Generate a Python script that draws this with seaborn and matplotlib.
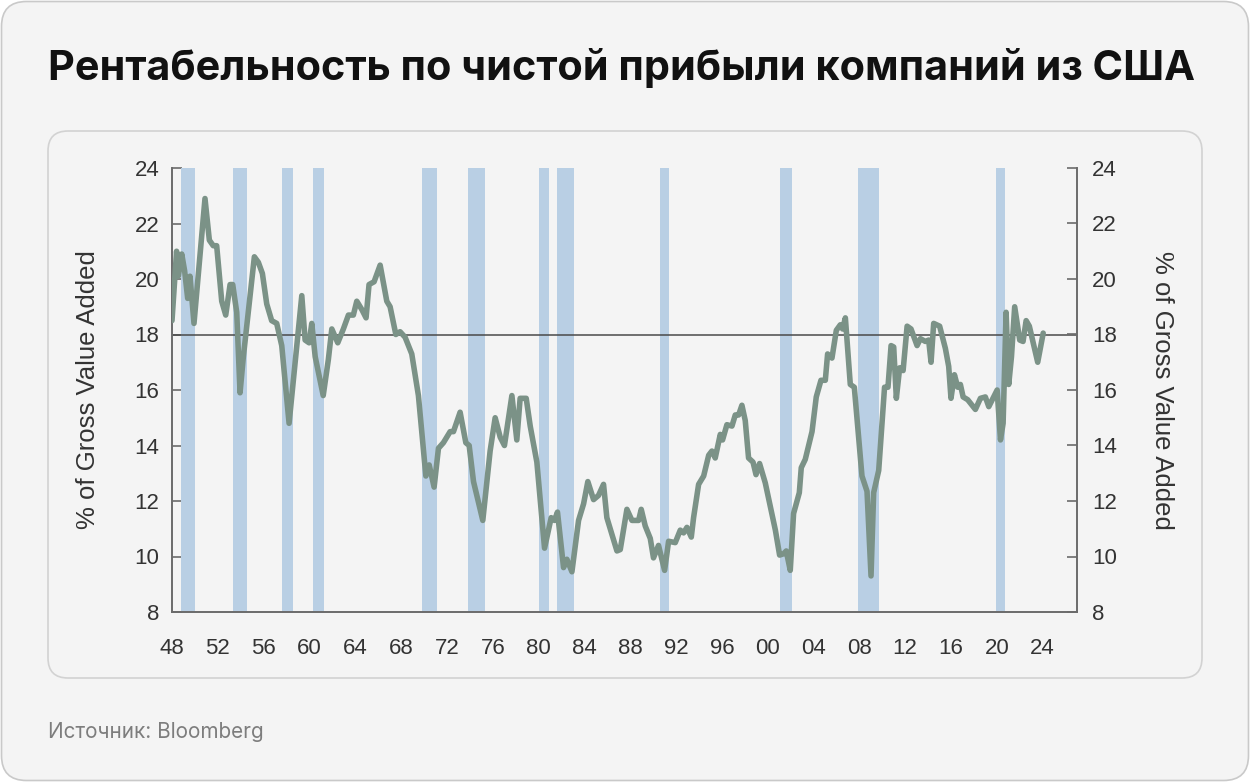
import matplotlib
matplotlib.use("Agg")
import matplotlib.pyplot as plt
from matplotlib.patches import FancyBboxPatch
import seaborn as sns
import pandas as pd

# ---------------- data ----------------
years = [1948.0, 1948.4, 1948.55, 1948.85, 1949.1, 1949.37, 1949.57, 1949.92, 1950.88, 1951.26,
         1951.6, 1951.9, 1952.34, 1952.69, 1953.07, 1953.3, 1953.65, 1953.94, 1954.23, 1955.19,
         1955.54, 1955.89, 1956.27, 1956.7, 1957.14, 1957.58, 1958.22, 1959.33, 1959.62, 1959.97,
         1960.2, 1960.5, 1961.2, 1961.65, 1961.95, 1962.47, 1962.96, 1963.4, 1963.83, 1964.13,
         1964.57, 1964.94, 1965.2, 1965.64, 1966.17, 1966.75, 1967.04, 1967.54, 1967.91, 1968.35,
         1968.93, 1969.51, 1970.16, 1970.45, 1970.88, 1971.26, 1971.69, 1972.28, 1972.57, 1973.15,
         1973.65, 1973.94, 1974.32, 1975.13, 1975.77, 1976.21, 1976.65, 1977.02, 1977.67, 1978.1,
         1978.39, 1978.92, 1979.27, 1979.85, 1980.52, 1981.1, 1981.39, 1981.65, 1982.18, 1982.47,
         1982.91, 1983.49, 1983.93, 1984.3, 1984.8, 1985.23, 1985.67, 1985.96, 1986.84, 1987.13,
         1987.71, 1988.15, 1988.73, 1988.96, 1989.31, 1989.75, 1990.03, 1990.47, 1991.0, 1991.35,
         1991.93, 1992.37, 1992.66, 1992.95, 1993.33, 1993.53, 1993.97, 1994.41, 1994.85, 1995.13,
         1995.42, 1995.86, 1996.06, 1996.44, 1996.88, 1997.17, 1997.46, 1997.75, 1998.04, 1998.33,
         1998.72, 1998.98, 1999.29, 1999.79, 2000.38, 2000.67, 2001.04, 2001.39, 2001.62, 2001.97,
         2002.26, 2002.76, 2002.93, 2003.28, 2003.87, 2004.24, 2004.65, 2005.03, 2005.23, 2005.61,
         2005.99, 2006.34, 2006.54, 2006.78, 2007.21, 2007.56, 2008.23, 2008.67, 2009.02, 2009.25,
         2009.69, 2010.2, 2010.5, 2010.77, 2011.0, 2011.23, 2011.52, 2011.82, 2012.17, 2012.51,
         2013.04, 2013.33, 2013.76, 2014.05, 2014.26, 2014.49, 2015.01, 2015.51, 2015.8, 2016.0,
         2016.3, 2016.59, 2016.82, 2017.06, 2017.46, 2018.13, 2018.57, 2019.0, 2019.3, 2019.73,
         2020.03, 2020.32, 2020.55, 2020.81, 2021.04, 2021.28, 2021.56, 2022.0, 2022.29, 2022.56,
         2022.84, 2023.57, 2024.05]
margin = [18.5, 21.0, 20.1, 20.9, 20.3, 19.3, 20.1, 18.4, 22.9, 21.4,
          21.2, 21.2, 19.2, 18.7, 19.8, 19.8, 18.8, 15.9, 17.2, 20.8,
          20.6, 20.2, 19.1, 18.5, 18.4, 17.6, 14.8, 19.4, 17.8, 17.7,
          18.4, 17.2, 15.8, 17.1, 18.2, 17.7, 18.2, 18.7, 18.7, 19.2,
          18.9, 18.6, 19.8, 19.9, 20.5, 19.2, 19.0, 18.0, 18.1, 17.9,
          17.3, 15.8, 12.9, 13.3, 12.5, 13.9, 14.1, 14.5, 14.5, 15.2,
          14.1, 14.0, 12.7, 11.3, 13.8, 15.0, 14.3, 14.0, 15.8, 14.2,
          15.7, 15.7, 14.7, 13.4, 10.3, 11.4, 11.3, 11.6, 9.6, 9.9,
          9.45, 11.3, 11.9, 12.7, 12.05, 12.2, 12.6, 11.4, 10.2, 10.25,
          11.7, 11.3, 11.3, 11.7, 11.1, 10.65, 9.95, 10.4, 9.5, 10.55,
          10.5, 10.95, 10.85, 11.05, 10.7, 11.4, 12.6, 12.9, 13.65, 13.8,
          13.55, 14.4, 14.2, 14.75, 14.7, 15.1, 15.1, 15.45, 14.9, 13.55,
          13.4, 12.95, 13.35, 12.65, 11.5, 10.95, 10.05, 10.1, 10.2, 9.5,
          11.55, 12.3, 13.2, 13.5, 14.5, 15.75, 16.35, 16.35, 17.3, 17.15,
          18.15, 18.35, 18.2, 18.6, 16.2, 16.1, 12.9, 12.35, 9.3, 12.3,
          13.1, 16.1, 16.1, 17.6, 17.55, 15.7, 16.8, 16.7, 18.3, 18.2,
          17.6, 17.85, 17.75, 17.8, 17.0, 18.4, 18.3, 17.5, 16.85, 15.7,
          16.55, 16.1, 16.2, 15.75, 15.65, 15.3, 15.7, 15.75, 15.4, 15.75,
          16.0, 14.2, 14.8, 18.8, 16.2, 17.2, 19.0, 17.8, 17.75, 18.5,
          18.3, 17.0, 18.05]

recession_start = [1948.8, 1953.3, 1957.6, 1960.3, 1969.85, 1973.85, 1980.05, 1981.6,
                   1990.6, 2001.1, 2007.9, 2019.9]
recession_end = [1950.05, 1954.55, 1958.6, 1961.3, 1971.1, 1975.35, 1980.9, 1983.1,
                 1991.4, 2002.15, 2009.7, 2020.7]

reference_level = 18
y_ticks = [8, 10, 12, 14, 16, 18, 20, 22, 24]
x_ticks = list(range(1948, 2025, 4))
x_tick_labels = [f"{y % 100:02d}" for y in x_ticks]

title = "Рентабельность по чистой прибыли компаний из США"
source = "Источник: Bloomberg"
y_label = "% of Gross Value Added"

# ---------------- style ----------------
sns.set_style("white")
plt.rcParams["font.family"] = ["Liberation Sans", "DejaVu Sans"]

BG = "#f4f4f4"
LINE = "#7b9287"
BAND = "#b9cfe4"
AXC = "#6b6b6b"
TXT = "#333333"

W, H, DPI = 1250, 782, 100
fig = plt.figure(figsize=(W / DPI, H / DPI), dpi=DPI, facecolor="white")

def fx(px):
    return px / W

def fy(py):
    return 1 - py / H

# outer card
outer = FancyBboxPatch((fx(1.5), fy(780.5)), fx(1247), 779 / H, transform=fig.transFigure,
                       boxstyle="round,pad=0,rounding_size=0.02", facecolor=BG, edgecolor="#c9c9c9",
                       linewidth=1.2, mutation_aspect=W / H, zorder=-10)
fig.patches.append(outer)

# inner panel
inner = FancyBboxPatch((fx(48), fy(678)), fx(1154), (678 - 131) / H, transform=fig.transFigure,
                       boxstyle="round,pad=0,rounding_size=0.016", facecolor=BG, edgecolor="#d2d2d2",
                       linewidth=1.2, mutation_aspect=W / H, zorder=-9)
fig.patches.append(inner)

fig.text(fx(48), fy(68), title, fontsize=29.8, fontweight="bold", color="#111111",
         va="center", ha="left", family=["Inter", "DejaVu Sans"])
fig.text(fx(48), fy(732), source, fontsize=14.9, color="#7d7d7d",
         va="center", ha="left", family=["Inter", "DejaVu Sans"])

ax = fig.add_axes([fx(172), fy(612), fx(1077 - 172), (612 - 168) / H])
ax.set_facecolor("none")
ax.set_zorder(2)

for s, e in zip(recession_start, recession_end):
    ax.axvspan(s, e, color=BAND, lw=0, zorder=1)

ax.axhline(reference_level, color="#4a4a4a", lw=1.3, alpha=0.85, zorder=2)

df = pd.DataFrame({"year": years, "margin": margin})
sns.lineplot(data=df, x="year", y="margin", ax=ax, color=LINE, linewidth=4.0,
             sort=False, zorder=3)
for ln in ax.lines:
    ln.set_solid_joinstyle("round")
    ln.set_solid_capstyle("round")

ax.set_xlim(1948, 2027)
ax.set_ylim(8, 24)
ax.set_xticks(x_ticks)
ax.set_xticklabels(x_tick_labels)
ax.set_yticks(y_ticks)
ax.set_xlabel("")
ax.set_ylabel(y_label, fontsize=18.5, color=TXT, labelpad=25)

for side in ["top", "right"]:
    ax.spines[side].set_visible(False)
for side in ["left", "bottom"]:
    ax.spines[side].set_color(AXC)
    ax.spines[side].set_linewidth(1.4)

ax.tick_params(axis="both", direction="in", length=7, width=1.2, color=AXC,
               labelsize=16, labelcolor=TXT)
ax.tick_params(axis="x", pad=19)
ax.tick_params(axis="y", pad=9)

ax2 = ax.twinx()
ax2.set_zorder(3)
ax2.set_facecolor("none")
ax2.set_ylim(8, 24)
ax2.set_yticks(y_ticks)
ax2.set_ylabel(y_label, fontsize=18.5, color=TXT, rotation=270, labelpad=41)
for side in ["top", "left", "bottom"]:
    ax2.spines[side].set_visible(False)
ax2.spines["right"].set_color(AXC)
ax2.spines["right"].set_linewidth(1.4)
ax2.tick_params(axis="y", direction="in", length=7, width=1.2, color=AXC,
                labelsize=16, labelcolor=TXT, pad=11)

fig.savefig("out.png", dpi=DPI, facecolor=fig.get_facecolor())
